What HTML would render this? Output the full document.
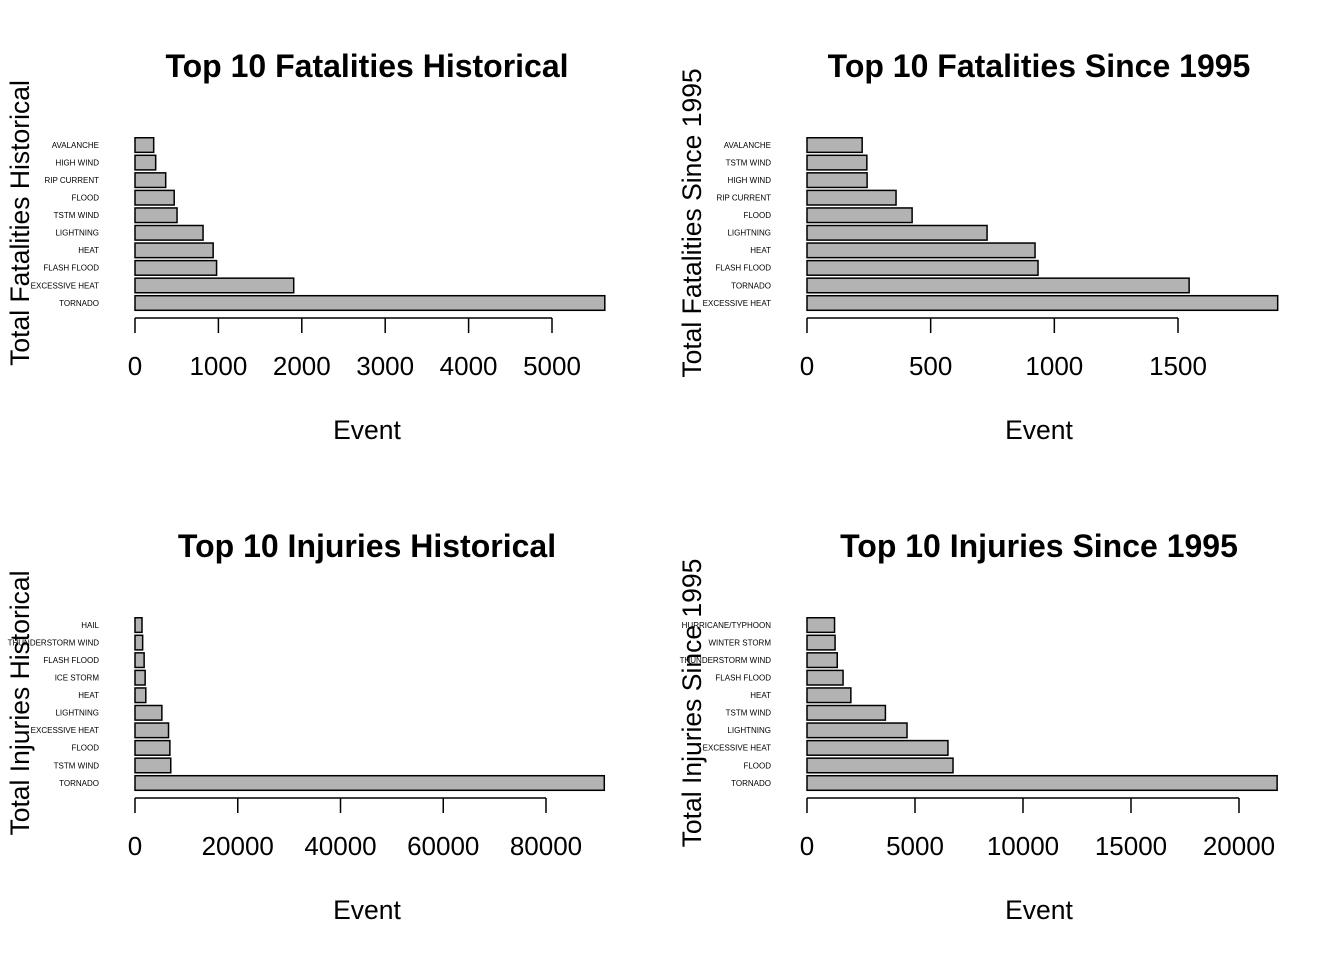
<!DOCTYPE html>
<html><head><meta charset="utf-8"><style>
body{margin:0;background:#fff}
svg{display:block;font-family:"Liberation Sans",Arial,sans-serif}
</style></head><body>
<svg id="c" width="1344" height="960" xmlns="http://www.w3.org/2000/svg"></svg>
<script>
const p1Cats=["TORNADO","EXCESSIVE HEAT","FLASH FLOOD","HEAT","LIGHTNING","TSTM WIND","FLOOD","RIP CURRENT","HIGH WIND","AVALANCHE"];
const p1Vals=[5633,1903,978,937,816,504,470,368,248,224];
const p1Ticks=[0,1000,2000,3000,4000,5000];
const p2Cats=["EXCESSIVE HEAT","TORNADO","FLASH FLOOD","HEAT","LIGHTNING","FLOOD","RIP CURRENT","HIGH WIND","TSTM WIND","AVALANCHE"];
const p2Vals=[1903,1545,934,922,728,425,360,243,242,223];
const p2Ticks=[0,500,1000,1500];
const p3Cats=["TORNADO","TSTM WIND","FLOOD","EXCESSIVE HEAT","LIGHTNING","HEAT","ICE STORM","FLASH FLOOD","THUNDERSTORM WIND","HAIL"];
const p3Vals=[91346,6957,6789,6525,5230,2100,1975,1777,1488,1361];
const p3Ticks=[0,20000,40000,60000,80000];
const p4Cats=["TORNADO","FLOOD","EXCESSIVE HEAT","LIGHTNING","TSTM WIND","HEAT","FLASH FLOOD","THUNDERSTORM WIND","WINTER STORM","HURRICANE/TYPHOON"];
const p4Vals=[21765,6760,6525,4630,3630,2030,1670,1400,1300,1275];
const p4Ticks=[0,5000,10000,15000,20000];

const svg=document.getElementById('c');
const NS='http://www.w3.org/2000/svg';
function mk(t,a,txt){const e=document.createElementNS(NS,t);for(const k in a)e.setAttribute(k,a[k]);if(txt!==undefined)e.textContent=txt;svg.appendChild(e);return e;}

function panel(id,ox,oy,cats,vals,ticks,pxPerUnit,title,ylab){
  const x0=ox+135;
  const xs=v=>x0+v*pxPerUnit;
  const ys=i=>oy+303-i*17.55;
  let t=mk('text',{x:ox+367,y:oy+77,'text-anchor':'middle','font-size':32,'font-weight':'bold'},title);
  
  
  t=mk('text',{x:ox+367,y:oy+439,'text-anchor':'middle','font-size':26.5},'Event');
  
  
  t=mk('text',{x:0,y:0,'text-anchor':'middle','font-size':26.5,transform:`translate(${ox+29},${oy+223}) rotate(-90)`},ylab);
  
  
  vals.forEach((v,i)=>{
    const r=mk('rect',{x:x0,y:ys(i)-7.3,width:xs(v)-x0,height:14.6,fill:'#b3b3b3',stroke:'#000','stroke-width':1.5});
    
    
    const l=mk('text',{x:ox+99,y:ys(i)+2.8,'text-anchor':'end','font-size':8},cats[i]);
    
    
  });
  const ay=oy+318;
  const ax=mk('line',{x1:xs(ticks[0]),x2:xs(ticks[ticks.length-1]),y1:ay,y2:ay,stroke:'#000','stroke-width':1.5});
  
  
  ticks.forEach(tv=>{
    const tk=mk('line',{x1:xs(tv),x2:xs(tv),y1:ay,y2:ay+15,stroke:'#000','stroke-width':1.5});
    
    
    const tl=mk('text',{x:xs(tv),y:oy+375,'text-anchor':'middle','font-size':26},String(tv));
    
    
  });
}
panel('fatal-hist',0,0,p1Cats,p1Vals,p1Ticks,417/5000,'Top 10 Fatalities Historical','Total Fatalities Historical');
panel('fatal-1995',672,0,p2Cats,p2Vals,p2Ticks,371/1500,'Top 10 Fatalities Since 1995','Total Fatalities Since 1995');
panel('injury-hist',0,480,p3Cats,p3Vals,p3Ticks,411/80000,'Top 10 Injuries Historical','Total Injuries Historical');
panel('injury-1995',672,480,p4Cats,p4Vals,p4Ticks,432/20000,'Top 10 Injuries Since 1995','Total Injuries Since 1995');
</script>
</body></html>
